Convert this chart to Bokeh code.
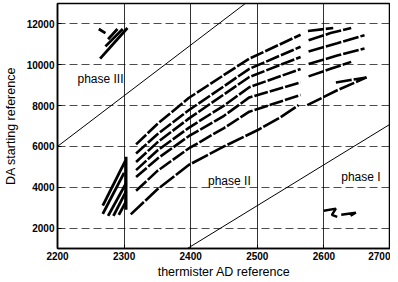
from bokeh.plotting import figure
from bokeh.models import Range1d, FixedTicker, Label
from bokeh.embed import file_html
from bokeh.resources import INLINE

# ---- axes ----
x_ticks = [2200, 2300, 2400, 2500, 2600, 2700]
y_ticks = [2000, 4000, 6000, 8000, 10000, 12000]

# ---- phase boundary lines ----
bound_a_x = [2200, 2482]
bound_a_y = [6000, 13000]
bound_b_x = [2395, 2700]
bound_b_y = [1000, 7100]

# ---- main curves (phase II, left part) ----
c1_x = [2318, 2350, 2397, 2450, 2488, 2565]
c1_y = [6100, 7100, 8370, 9500, 10300, 11470]
c2_x = [2318, 2350, 2397, 2450, 2488, 2565]
c2_y = [5650, 6600, 7770, 8950, 9800, 10880]
c3_x = [2318, 2350, 2397, 2450, 2488, 2565]
c3_y = [5240, 6200, 7360, 8550, 9400, 10380]
c4_x = [2318, 2350, 2397, 2450, 2488, 2565]
c4_y = [4840, 5800, 6910, 8000, 8900, 9790]
c5_x = [2318, 2350, 2397, 2450, 2488, 2565]
c5_y = [4500, 5400, 6500, 7500, 8400, 9130]
c6_x = [2318, 2350, 2397, 2450, 2488, 2565]
c6_y = [3830, 4800, 5900, 6900, 7700, 8520]
c7_x = [2310, 2350, 2397, 2450, 2500, 2534, 2562]
c7_y = [2670, 3900, 5090, 6000, 6790, 7410, 8020]

# ---- right part (beyond gap) ----
r1_x = [2576, 2614]
r1_y = [11650, 11800]
r2_x = [2577, 2610, 2641]
r2_y = [11200, 11550, 11800]
r3_x = [2577, 2620, 2661]
r3_y = [10650, 11050, 11450]
r4_x = [2577, 2620, 2661]
r4_y = [10040, 10450, 10800]
r5_x = [2577, 2610, 2641]
r5_y = [9430, 9800, 10140]
r6_x = [2575, 2620, 2664]
r6_y = [8020, 8750, 9380]
h1_x = [2618, 2640, 2664]
h1_y = [9130, 9250, 9380]

# ---- steep cluster at start of phase II ----
k1_x = [2268, 2302]
k1_y = [3100, 5300]
k2_x = [2268, 2300]
k2_y = [2700, 4700]
k3_x = [2276, 2303]
k3_y = [2600, 4200]
k4_x = [2284, 2303]
k4_y = [2600, 3800]
k5_x = [2292, 2303]
k5_y = [2650, 3300]
k6_x = [2303, 2303]
k6_y = [2900, 5500]

# ---- phase III cluster ----
p1_x = [2264, 2305]
p1_y = [10300, 11800]
p2_x = [2272, 2298]
p2_y = [10900, 11750]
p3_x = [2276, 2290]
p3_y = [11250, 11750]
p4_x = [2262, 2272]
p4_y = [11750, 11550]

# ---- phase I markers ----
m1_x = [2600, 2618, 2612, 2620]
m1_y = [2850, 2950, 2650, 2550]
m2_x = [2626, 2648, 2640]
m2_y = [2650, 2750, 2600]

phase_names = ["phase III", "phase II", "phase I"]
phase_x = [2230, 2426, 2626]
phase_y = [9280, 4330, 4480]

FONT = "Liberation Sans"

p = figure(width=390, height=281, output_backend="svg", toolbar_location=None,
           x_range=Range1d(2200, 2700), y_range=Range1d(1000, 13000),
           min_border_left=53, min_border_right=0, min_border_top=3,
           min_border_bottom=20)
p.background_fill_color = "white"
p.border_fill_color = "white"
p.outline_line_color = "black"
p.outline_line_width = 1.5

p.xaxis.ticker = FixedTicker(ticks=x_ticks)
p.yaxis.ticker = FixedTicker(ticks=y_ticks)
for ax in (p.xaxis[0], p.yaxis[0]):
    ax.axis_line_width = 1.5
    ax.major_tick_in = 4
    ax.major_tick_out = 0
    ax.minor_tick_line_color = None
    ax.major_label_text_font = FONT
    ax.major_label_text_font_size = "10px"
    ax.major_label_text_font_style = "bold"
    ax.major_label_text_color = "black"
    ax.axis_label_text_font = FONT
    ax.axis_label_text_font_style = "normal"
    ax.axis_label_text_color = "black"
    ax.axis_label_text_font_size = "12.5px"
    ax.major_label_standoff = 3
p.xaxis.axis_label = "thermister AD reference"
p.yaxis.axis_label = "DA starting reference"
p.xaxis.axis_label_standoff = 2
p.yaxis.axis_label_standoff = 6

p.xgrid.grid_line_color = "black"
p.xgrid.grid_line_alpha = 0.8
p.xgrid.grid_line_width = 1
p.ygrid.grid_line_color = "black"
p.ygrid.grid_line_alpha = 0.7
p.ygrid.grid_line_dash = "8 4"

# boundaries
p.line(bound_a_x, bound_a_y, color="black", line_width=1)
p.line(bound_b_x, bound_b_y, color="black", line_width=1)

for xs, ys in [(c1_x, c1_y), (c2_x, c2_y), (c3_x, c3_y), (c4_x, c4_y),
               (c5_x, c5_y), (c6_x, c6_y)]:
    p.line(xs, ys, color="black", line_width=2.6, line_dash="14 2")
p.line(c7_x, c7_y, color="black", line_width=2.6, line_dash="18 2")

for xs, ys in [(r1_x, r1_y), (r2_x, r2_y), (r3_x, r3_y), (r4_x, r4_y),
               (r5_x, r5_y), (r6_x, r6_y), (h1_x, h1_y)]:
    p.line(xs, ys, color="black", line_width=2.6, line_dash="16 2")

for xs, ys in [(k1_x, k1_y), (k2_x, k2_y), (k3_x, k3_y), (k4_x, k4_y),
               (k5_x, k5_y), (k6_x, k6_y)]:
    p.line(xs, ys, color="black", line_width=2.8)

for xs, ys in [(p1_x, p1_y), (p2_x, p2_y), (p3_x, p3_y), (p4_x, p4_y)]:
    p.line(xs, ys, color="black", line_width=2.8)

for xs, ys in [(m1_x, m1_y), (m2_x, m2_y)]:
    p.line(xs, ys, color="black", line_width=2.4)

for name, lx, ly in zip(phase_names, phase_x, phase_y):
    p.add_layout(Label(x=lx, y=ly, text=name, text_font=FONT,
                       text_font_size="12px", text_color="black",
                       text_baseline="middle", text_align="left"))

open("out.html", "w").write(file_html(p, INLINE))
